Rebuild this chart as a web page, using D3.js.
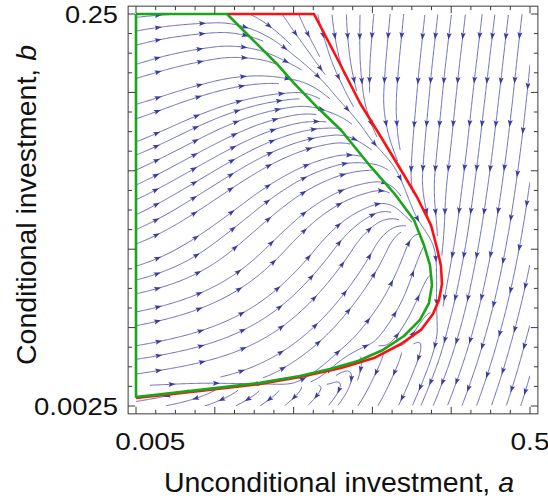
<!DOCTYPE html>
<html>
<head>
<meta charset="utf-8">
<script src="https://cdn.jsdelivr.net/npm/d3@7"></script>
<style>
  html, body { margin: 0; padding: 0; background: #ffffff; }
  svg { display: block; }
</style>
</head>
<body>
<script>
// ---- axis ranges and labels ----
const aDomain = [0.0042, 0.5];     // unconditional investment a (log)
const bDomain = [0.0025, 0.25];    // conditional investment b (log)
const xTickValues = [0.005, 0.5];
const xTickLabels = ["0.005", "0.5"];
const yTickValues = [0.0025, 0.25];
const yTickLabels = ["0.0025", "0.25"];

// ---- direction field: nodes (log spaced) and flow angle in degrees ----
const fieldA = [0.0042, 0.00677, 0.01092, 0.01761, 0.02841, 0.04581, 0.07388, 0.1192, 0.1922, 0.3100, 0.5];
const fieldB = [0.25, 0.1577, 0.0995, 0.0628, 0.0396, 0.025, 0.0158, 0.00995, 0.00628, 0.00396, 0.0025];
const fieldAngle = [
  [   5,    3,    0,  -28,  -65,  -85,  -95,  -96,  -97,  -97,  -97],
  [  18,   12,    8,  -10,  -40,  -75,  -95,  -96,  -97,  -97,  -96],
  [  15,   17,   15,   10,    3,  -50,  -92,  -95,  -96,  -97,  -96],
  [  20,   25,   25,   22,   15,    4,  -65,  -95,  -96,  -97,  -97],
  [  24,   28,   30,   30,   26,   18,    2,  -93,  -97,  -98,  -98],
  [  25,   30,   34,   38,   38,   32,   22,  -65,  -97,  -99,  -99],
  [  20,   28,   36,   42,   47,   52,   60,   70, -100, -101, -101],
  [  12,   18,   26,   35,   43,   50,   56,   70, -102, -103, -103],
  [  10,   14,   20,   28,   38,   46,   52,   58, -106, -106, -105],
  [   8,   10,   14,   22,   32,   40, -115, -112, -110, -108, -106],
  [-172, -168, -160, -150, -140, -130, -122, -115, -112, -110, -108]
];

// ---- boundary curves ----
const greenA = [0.0042, 0.01267, 0.01674, 0.02295, 0.02854, 0.03773, 0.05046, 0.07263, 0.09601, 0.1224, 0.1381, 0.1486, 0.1522, 0.1468, 0.1316, 0.1084, 0.0840, 0.0621, 0.04417, 0.0307, 0.0189, 0.00913, 0.0042, 0.0042];
const greenB = [0.25, 0.25, 0.1909, 0.1406, 0.1111, 0.0838, 0.0640, 0.04144, 0.03052, 0.02223, 0.01657, 0.0131, 0.01036, 0.00838, 0.00687, 0.00569, 0.00483, 0.00424, 0.00386, 0.00356, 0.00328, 0.00302, 0.00278, 0.25];
const redA = [0.01267, 0.03639, 0.04809, 0.06357, 0.08201, 0.1045, 0.1269, 0.1504, 0.1618, 0.1698, 0.1719, 0.1658, 0.1541, 0.1332, 0.1045, 0.07534, 0.05046, 0.0307, 0.0189, 0.00913, 0.0042];
const redB = [0.25, 0.25, 0.1491, 0.0879, 0.05893, 0.04, 0.02912, 0.02096, 0.016, 0.01295, 0.01048, 0.00868, 0.00737, 0.00611, 0.00518, 0.00439, 0.00391, 0.00352, 0.00324, 0.00298, 0.00275];

// ---- layout ----
const W = 548, H = 499;
const x = d3.scaleLog().domain(aDomain).range([136, 530]);
const y = d3.scaleLog().domain(bDomain).range([406, 14]);
const padX = 0.02 * (x.range()[1] - x.range()[0]);
const padY = 0.02 * (y.range()[0] - y.range()[1]);
const frame = {
  x0: x.range()[0] - padX, x1: x.range()[1] + padX,
  y0: y.range()[1] - padY, y1: y.range()[0] + padY
};

const svg = d3.select("body").append("svg")
  .attr("width", W).attr("height", H)
  .attr("viewBox", `0 0 ${W} ${H}`);

svg.append("defs").append("clipPath").attr("id", "plotClip")
  .append("rect")
  .attr("x", x.range()[0]).attr("y", y.range()[1])
  .attr("width", x.range()[1] - x.range()[0])
  .attr("height", y.range()[0] - y.range()[1]);

// ---- field evaluation (log coordinates) ----
const LA = fieldA.map(Math.log10);
const LB = fieldB.map(Math.log10);
const U = fieldAngle.map(r => r.map(d => Math.cos(d * Math.PI / 180)));
const V = fieldAngle.map(r => r.map(d => Math.sin(d * Math.PI / 180)));
const laMin = d3.min(LA), laMax = d3.max(LA), lbMin = d3.min(LB), lbMax = d3.max(LB);

function locate(arr, v) {
  for (let i = 0; i < arr.length - 1; i++) {
    const lo = arr[i], hi = arr[i + 1];
    if ((v - lo) * (v - hi) <= 0) return [i, (v - lo) / (hi - lo)];
  }
  return null;
}
function field(la, lb) {
  const p = locate(LA, la), q = locate(LB, lb);
  if (!p || !q) return null;
  const [i, t] = p, [j, s] = q;
  const w00 = (1 - t) * (1 - s), w10 = t * (1 - s), w01 = (1 - t) * s, w11 = t * s;
  const u = w00 * U[j][i] + w10 * U[j][i + 1] + w01 * U[j + 1][i] + w11 * U[j + 1][i + 1];
  const v = w00 * V[j][i] + w10 * V[j][i + 1] + w01 * V[j + 1][i] + w11 * V[j + 1][i + 1];
  const m = Math.hypot(u, v);
  if (m < 0.06) return null;
  return [u / m, v / m];
}
const inDomain = (la, lb) => la >= laMin && la <= laMax && lb >= lbMin && lb <= lbMax;
const PX = la => x(Math.pow(10, la));
const PY = lb => y(Math.pow(10, lb));

// ---- evenly spaced streamlines ----
const dsep = 13.5, dtest = 6.2, h = 0.006;
const cell = dsep;
const gCols = Math.ceil(W / cell) + 1, gRows = Math.ceil(H / cell) + 1;
const occ = Array.from({ length: gCols * gRows }, () => []);
function addPt(px, py) {
  const ci = Math.floor(px / cell), cj = Math.floor(py / cell);
  occ[cj * gCols + ci].push([px, py]);
}
function near(px, py, r) {
  const ci = Math.floor(px / cell), cj = Math.floor(py / cell);
  const rr = Math.ceil(r / cell);
  for (let dj = -rr; dj <= rr; dj++) for (let di = -rr; di <= rr; di++) {
    const a = ci + di, b = cj + dj;
    if (a < 0 || b < 0 || a >= gCols || b >= gRows) continue;
    for (const p of occ[b * gCols + a]) {
      if ((p[0] - px) * (p[0] - px) + (p[1] - py) * (p[1] - py) < r * r) return true;
    }
  }
  return false;
}

function trace(la0, lb0, sign) {
  const pts = [];
  let la = la0, lb = lb0, prev = null;
  const own = [];
  for (let k = 0; k < 2500; k++) {
    const d1 = field(la, lb); if (!d1) break;
    const ma = la + sign * h * 0.5 * d1[0], mb = lb + sign * h * 0.5 * d1[1];
    const d2 = field(ma, mb); if (!d2) break;
    if (prev && d2[0] * prev[0] + d2[1] * prev[1] < 0.5) break;
    const na = la + sign * h * d2[0], nb = lb + sign * h * d2[1];
    if (!inDomain(na, nb)) break;
    const px = PX(na), py = PY(nb);
    if (near(px, py, dtest)) break;
    let loop = false;
    for (let q = 0; q < own.length - 12; q++) {
      const o = own[q];
      if ((o[0] - px) * (o[0] - px) + (o[1] - py) * (o[1] - py) < dtest * dtest) { loop = true; break; }
    }
    if (loop) break;
    own.push([px, py]);
    pts.push([na, nb]);
    la = na; lb = nb; prev = d2;
  }
  return pts;
}

const lines = [];
function makeLine(la, lb) {
  const back = trace(la, lb, -1).reverse();
  const fwd = trace(la, lb, 1);
  const pts = back.concat([[la, lb]], fwd);
  let len = 0;
  for (let i = 1; i < pts.length; i++)
    len += Math.hypot(PX(pts[i][0]) - PX(pts[i - 1][0]), PY(pts[i][1]) - PY(pts[i - 1][1]));
  if (len < 12) return null;
  pts.forEach(p => addPt(PX(p[0]), PY(p[1])));
  const line = { pts, len };
  lines.push(line);
  return line;
}

function validSeed(px, py) {
  const la = Math.log10(x.invert(px)), lb = Math.log10(y.invert(py));
  if (!inDomain(la, lb)) return null;
  if (!field(la, lb)) return null;
  if (near(px, py, dsep * 0.98)) return null;
  return [la, lb];
}

function grow(first) {
  const queue = [first];
  while (queue.length) {
    const ln = queue.shift();
    const P = ln.pts.map(p => [PX(p[0]), PY(p[1])]);
    for (let i = 2; i < P.length - 2; i += 3) {
      const tx = P[i + 1][0] - P[i - 1][0], ty = P[i + 1][1] - P[i - 1][1];
      const tl = Math.hypot(tx, ty); if (tl === 0) continue;
      const nx = -ty / tl, ny = tx / tl;
      for (const sgn of [1, -1]) {
        const cx = P[i][0] + sgn * nx * dsep, cy = P[i][1] + sgn * ny * dsep;
        const s = validSeed(cx, cy);
        if (s) { const nl = makeLine(s[0], s[1]); if (nl) queue.push(nl); }
      }
    }
  }
}

// seed from a regular lattice, expanding each new line outward
for (let py = 30; py <= 400; py += 17) {
  for (let px = 142; px <= 526; px += 17) {
    const s = validSeed(px, py);
    if (s) { const l = makeLine(s[0], s[1]); if (l) grow(l); }
  }
}

// ---- draw streamlines ----
const streamG = svg.append("g").attr("clip-path", "url(#plotClip)");
const lineGen = d3.line().x(p => PX(p[0])).y(p => PY(p[1])).curve(d3.curveLinear);
streamG.selectAll("path.stream").data(lines).join("path")
  .attr("class", "stream")
  .attr("d", l => lineGen(l.pts))
  .attr("fill", "none")
  .attr("stroke", "#5c5cb0")
  .attr("stroke-width", 1)
  .attr("stroke-opacity", 0.9);

// arrowheads along each streamline
const arrows = [];
lines.forEach(l => {
  const P = l.pts.map(p => [PX(p[0]), PY(p[1])]);
  const cum = [0];
  for (let i = 1; i < P.length; i++) cum.push(cum[i - 1] + Math.hypot(P[i][0] - P[i - 1][0], P[i][1] - P[i - 1][1]));
  const L = cum[cum.length - 1];
  const spots = [];
  if (L < 42) spots.push(L / 2);
  else for (let s = 21; s < L - 8; s += 44) spots.push(s);
  spots.forEach(s => {
    let i = d3.bisectLeft(cum, s); i = Math.max(1, Math.min(P.length - 2, i));
    const a = P[Math.max(0, i - 2)], b = P[Math.min(P.length - 1, i + 2)];
    const tx = b[0] - a[0], ty = b[1] - a[1], tl = Math.hypot(tx, ty);
    if (tl === 0) return;
    arrows.push({ x: P[i][0], y: P[i][1], ang: Math.atan2(ty, tx) * 180 / Math.PI });
  });
});
streamG.selectAll("path.arrow").data(arrows).join("path")
  .attr("class", "arrow")
  .attr("d", "M4,0 L-3,-2.5 L-1.7,0 L-3,2.5 Z")
  .attr("transform", d => `translate(${d.x},${d.y}) rotate(${d.ang})`)
  .attr("fill", "#3c3ca0");

// ---- boundary curves ----
const curve = d3.line().x(d => x(d[0])).y(d => y(d[1]));
svg.append("path")
  .attr("d", curve(d3.zip(redA, redB)))
  .attr("fill", "none").attr("stroke", "#ff1010").attr("stroke-width", 2.6)
  .attr("stroke-linejoin", "round");
svg.append("path")
  .attr("d", curve(d3.zip(greenA, greenB)))
  .attr("fill", "none").attr("stroke", "#1aa51a").attr("stroke-width", 2.6)
  .attr("stroke-linejoin", "round");

// ---- frame and ticks ----
svg.append("rect")
  .attr("x", frame.x0).attr("y", frame.y0)
  .attr("width", frame.x1 - frame.x0).attr("height", frame.y1 - frame.y0)
  .attr("fill", "none").attr("stroke", "#3a3a3a").attr("stroke-width", 1);

const tickG = svg.append("g").attr("stroke", "#3a3a3a").attr("stroke-width", 1);
const laR = aDomain.map(Math.log10), lbR = bDomain.map(Math.log10);
for (let k = 0; k <= 20; k++) {
  const len = k % 4 === 0 ? 7 : 4;
  const ax = x(Math.pow(10, laR[0] + k / 20 * (laR[1] - laR[0])));
  const by = y(Math.pow(10, lbR[0] + k / 20 * (lbR[1] - lbR[0])));
  tickG.append("line").attr("x1", ax).attr("x2", ax).attr("y1", frame.y1).attr("y2", frame.y1 - len);
  tickG.append("line").attr("x1", ax).attr("x2", ax).attr("y1", frame.y0).attr("y2", frame.y0 + len);
  tickG.append("line").attr("y1", by).attr("y2", by).attr("x1", frame.x0).attr("x2", frame.x0 + len);
  tickG.append("line").attr("y1", by).attr("y2", by).attr("x1", frame.x1).attr("x2", frame.x1 - len);
}

// ---- tick labels ----
const font = "'Liberation Sans', Arial, Helvetica, sans-serif";
const xLabelWidth = { "0.005": 70, "0.5": 39 };
xTickValues.forEach((v, i) => {
  svg.append("text")
    .attr("x", x(v)).attr("y", 450)
    .attr("text-anchor", "middle")
    .attr("font-family", font).attr("font-size", 24)
    .attr("textLength", xLabelWidth[xTickLabels[i]]).attr("lengthAdjust", "spacingAndGlyphs")
    .attr("fill", "#111").text(xTickLabels[i]);
});
const yLabelWidth = { "0.0025": 84, "0.25": 53 };
yTickValues.forEach((v, i) => {
  svg.append("text")
    .attr("x", 118).attr("y", y(v) + 8.6)
    .attr("text-anchor", "end")
    .attr("font-family", font).attr("font-size", 24)
    .attr("textLength", yLabelWidth[yTickLabels[i]]).attr("lengthAdjust", "spacingAndGlyphs")
    .attr("fill", "#111").text(yTickLabels[i]);
});

// ---- axis titles ----
const xt = svg.append("text")
  .attr("x", 339).attr("y", 492).attr("text-anchor", "middle")
  .attr("font-family", font).attr("font-size", 28.5).attr("fill", "#111");
xt.append("tspan").text("Unconditional investment, ");
xt.append("tspan").attr("font-style", "italic").text("a");

const yt = svg.append("text")
  .attr("transform", "translate(36,205) rotate(-90)").attr("text-anchor", "middle")
  .attr("font-family", font).attr("font-size", 28.5).attr("fill", "#111");
yt.append("tspan").text("Conditional investment, ");
yt.append("tspan").attr("font-style", "italic").text("b");
</script>
</body>
</html>
